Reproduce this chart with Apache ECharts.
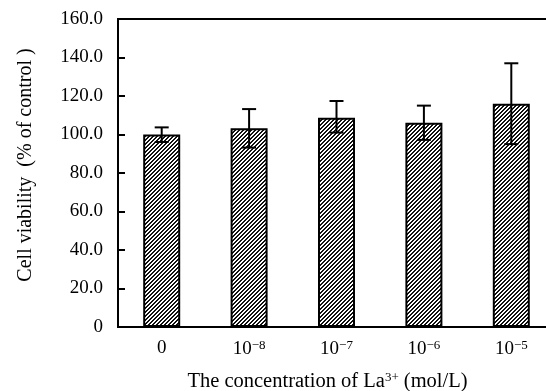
<!DOCTYPE html>
<html>
<head>
<meta charset="utf-8">
<script src="https://cdn.jsdelivr.net/npm/echarts@6/dist/echarts.min.js"></script>
<style>
  html, body { margin: 0; padding: 0; background: #fff; }
  #chart { width: 546px; height: 391px; }
</style>
</head>
<body>
<div id="chart"></div>
<script>
// concentrations of La3+ (control first)
const categories = ['0', '10{sup|−8}', '10{sup|−7}', '10{sup|−6}', '10{sup|−5}'];
const viability = [100.0, 103.2, 108.7, 106.1, 116.0];
const errLow = [96.1, 93.2, 101.0, 97.2, 95.0];
const errHigh = [103.7, 113.2, 117.4, 115.0, 137.0];
const yTicks = [0, 20, 40, 60, 80, 100, 120, 140, 160];

// hatch pattern for the bars ("/" stripes)
function makeHatch() {
    const c = document.createElement('canvas');
    c.width = 4;
    c.height = 4;
    const ctx = c.getContext('2d');
    ctx.fillStyle = '#fff';
    ctx.fillRect(0, 0, 4, 4);
    ctx.fillStyle = '#111';
    for (let x = 0; x < 4; x++) {
        for (let y = 0; y < 4; y++) {
            if ((x + y) % 4 < 2) ctx.fillRect(x, y, 1, 1);
        }
    }
    return c;
}

const chart = echarts.init(document.getElementById('chart'));
const font = 'Liberation Serif';
const supStyle = { fontFamily: font, fontSize: 13, color: '#000', verticalAlign: 'bottom', padding: [0, 0, 8, 0] };

const option = {
    animation: false,
    backgroundColor: '#fff',
    grid: {
        left: 118,
        top: 19,
        width: 437,
        height: 308,
        outerBoundsMode: 'none',
        containLabel: false,
        show: true,
        borderColor: '#000',
        borderWidth: 2
    },
    xAxis: {
        type: 'category',
        data: categories,
        axisLine: { lineStyle: { color: '#000', width: 2 } },
        axisTick: { show: false },
        axisLabel: {
            interval: 0,
            margin: 12,
            fontFamily: font,
            fontSize: 19,
            color: '#000',
            rich: { sup: supStyle }
        },
        name: 'The concentration of La{sup|3+} (mol/L)',
        nameLocation: 'middle',
        nameGap: 44,
        nameTextStyle: {
            fontFamily: font,
            fontSize: 20.5,
            color: '#000',
            padding: [0, 18, 0, 0],
            rich: { sup: supStyle }
        }
    },
    yAxis: {
        type: 'value',
        min: yTicks[0],
        max: yTicks[yTicks.length - 1],
        interval: 20,
        splitLine: { show: false },
        axisLine: { show: true, lineStyle: { color: '#000', width: 2 } },
        axisTick: { show: true, inside: true, length: 7, lineStyle: { color: '#000', width: 2 } },
        axisLabel: {
            margin: 15,
            fontFamily: font,
            fontSize: 19,
            color: '#000',
            formatter: v => (v === 0 ? '0' : v.toFixed(1))
        },
        name: 'Cell viability  (% of control )',
        nameLocation: 'middle',
        nameGap: 82,
        nameTextStyle: {
            fontFamily: font,
            fontSize: 20,
            color: '#000',
            padding: [0, 0, 0, 16]
        }
    },
    series: [
        {
            type: 'bar',
            data: viability,
            barWidth: 37,
            itemStyle: {
                color: { image: makeHatch(), repeat: 'repeat' },
                borderColor: '#000',
                borderWidth: 2
            }
        },
        {
            type: 'custom',
            data: viability.map((v, i) => [i, errLow[i], errHigh[i]]),
            renderItem: (params, api) => {
                const x = api.coord([api.value(0), 0])[0];
                const lo = api.coord([api.value(0), api.value(1)])[1];
                const hi = api.coord([api.value(0), api.value(2)])[1];
                const half = 7;
                const style = { stroke: '#000', lineWidth: 2 };
                return {
                    type: 'group',
                    children: [
                        { type: 'line', shape: { x1: x, y1: lo, x2: x, y2: hi }, style },
                        { type: 'line', shape: { x1: x - half, y1: hi, x2: x + half, y2: hi }, style },
                        { type: 'line', shape: { x1: x - half, y1: lo, x2: x + half, y2: lo }, style }
                    ]
                };
            },
            z: 10
        }
    ]
};

chart.setOption(option);
</script>
</body>
</html>
